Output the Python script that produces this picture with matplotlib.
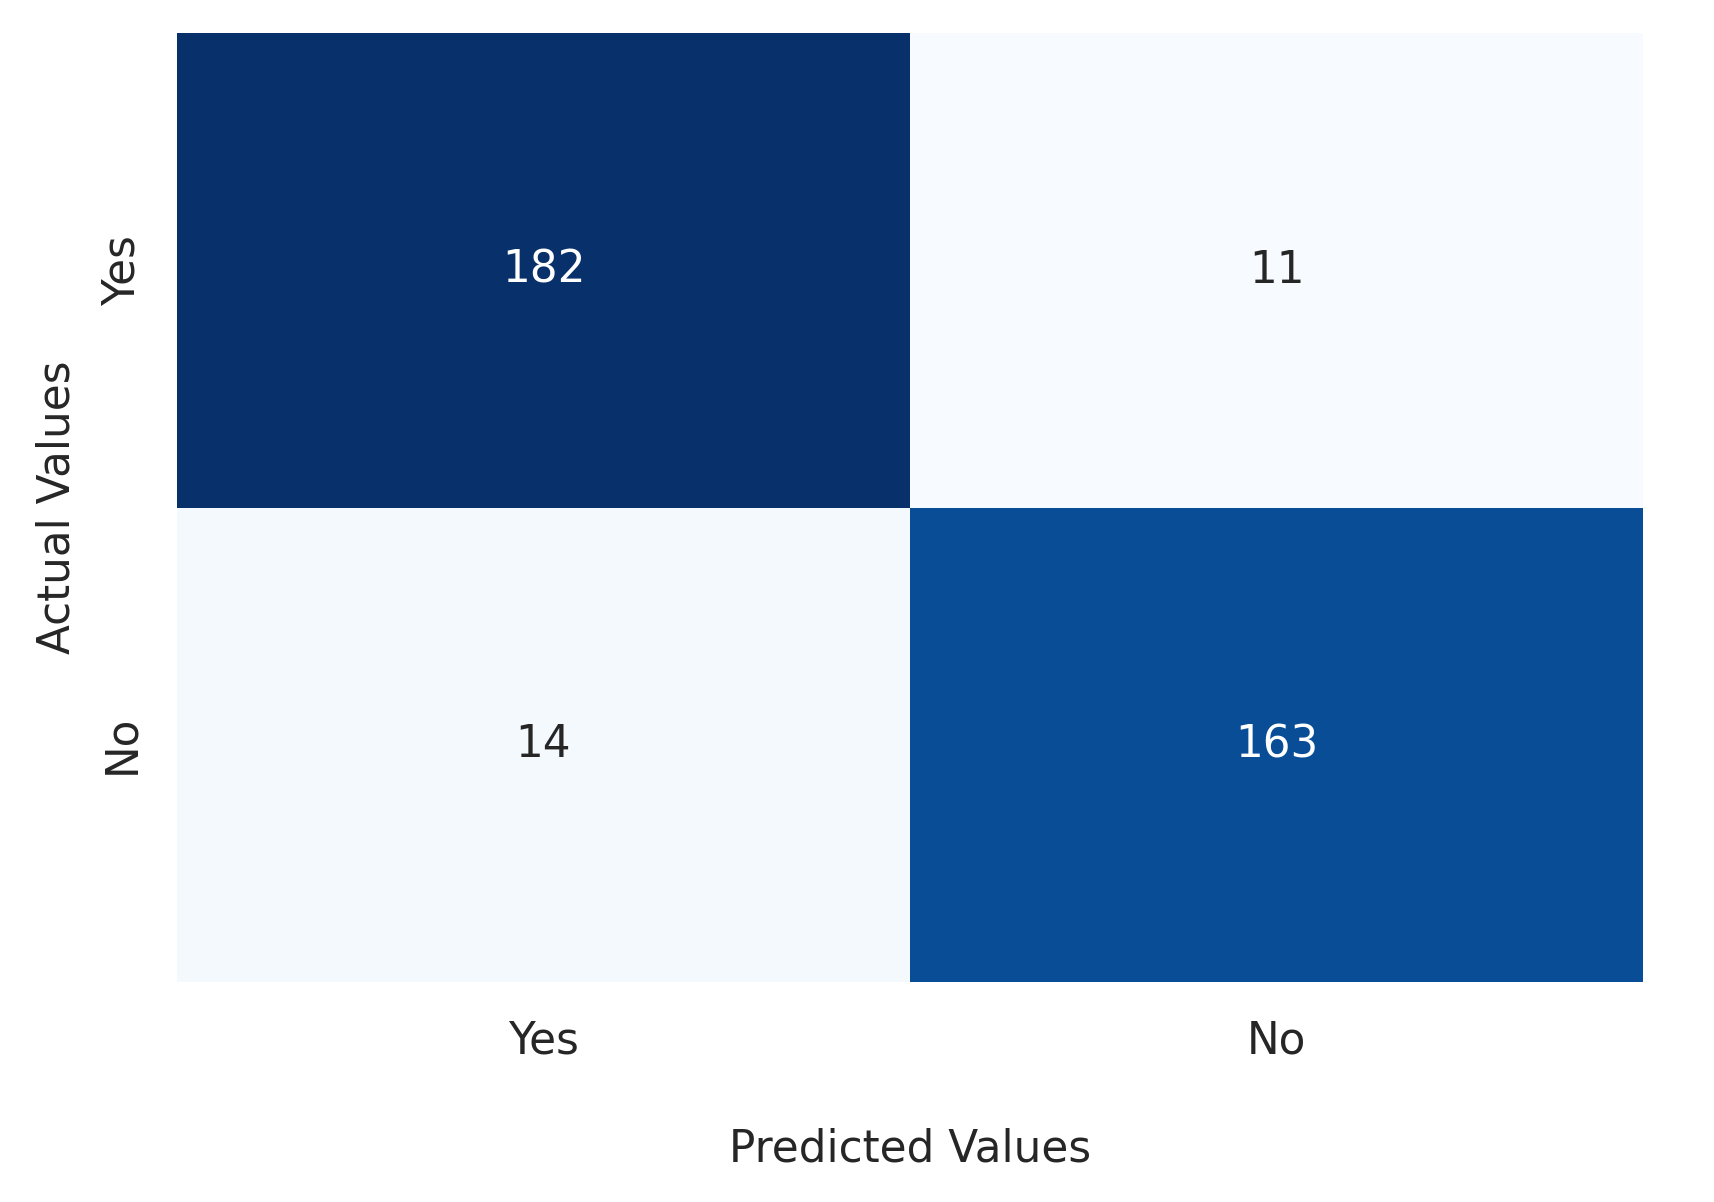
import numpy as np
import matplotlib
matplotlib.use("Agg")
import matplotlib.pyplot as plt
import seaborn as sns

# ============================================================
# DATA
# ============================================================

labels = ["Yes", "No"]

conf_matrix = np.array([
    [182, 11],
    [14, 163],
])

# ============================================================
# PLOT
# ============================================================

sns.set_style("white")

fig = plt.figure(figsize=(17.14, 12.02), dpi=100)
ax = fig.add_axes([0.1033, 0.183, 0.8553, 0.7895])

sns.heatmap(
    conf_matrix,
    annot=True,
    fmt="d",
    cmap="Blues",
    cbar=False,
    xticklabels=labels,
    yticklabels=labels,
    annot_kws={"fontsize": 31.5},
    ax=ax,
)

ax.tick_params(axis="both", length=0, labelsize=31.5, colors="#262626")
ax.tick_params(axis="x", pad=27)
ax.tick_params(axis="y", pad=24)
plt.setp(ax.get_yticklabels(), rotation=90, va="center")

ax.set_xlabel("Predicted Values", fontsize=31.5, color="#262626", labelpad=47)
ax.set_ylabel("Actual Values", fontsize=31.5, color="#262626", labelpad=16)

fig.savefig("out.png", dpi=100)
